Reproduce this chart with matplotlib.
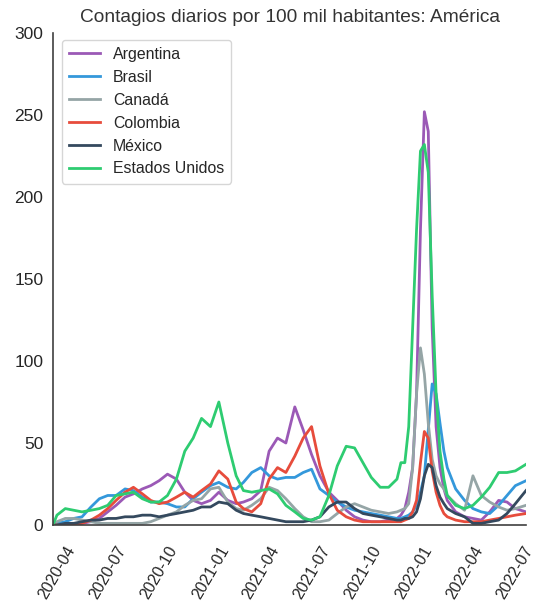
import matplotlib
matplotlib.use("Agg")
import matplotlib.pyplot as plt
import matplotlib.dates as mdates
import numpy as np
import pandas as pd

plt.rcParams['font.family'] = ['Liberation Sans', 'DejaVu Sans']

dates = pd.to_datetime([
    "2020-03-25", "2020-04-01", "2020-04-16", "2020-05-01", "2020-05-16", "2020-06-01",
    "2020-06-16", "2020-07-01", "2020-07-16", "2020-08-01", "2020-08-16", "2020-09-01",
    "2020-09-16", "2020-10-01", "2020-10-16", "2020-11-01", "2020-11-16", "2020-12-01",
    "2020-12-16", "2021-01-01", "2021-01-16", "2021-02-01", "2021-02-16", "2021-03-01",
    "2021-03-16", "2021-04-01", "2021-04-16", "2021-05-01", "2021-05-16", "2021-06-01",
    "2021-06-16", "2021-07-01", "2021-07-16", "2021-08-01", "2021-08-16", "2021-09-01",
    "2021-09-16", "2021-10-01", "2021-10-16", "2021-11-01", "2021-11-16", "2021-12-01",
    "2021-12-08", "2021-12-15", "2021-12-22", "2021-12-29", "2022-01-05", "2022-01-12",
    "2022-01-19", "2022-01-26", "2022-02-02", "2022-02-09", "2022-02-16", "2022-02-23",
    "2022-03-01", "2022-03-16", "2022-04-01", "2022-04-16", "2022-05-01", "2022-05-16",
    "2022-06-01", "2022-06-16", "2022-07-01", "2022-07-20",
])

argentina = [0, 0, 0, 0, 1, 2, 4, 8, 12, 17, 19, 22, 24, 27, 31, 28, 20, 15, 13, 15,
             20, 15, 13, 14, 16, 21, 45, 53, 50, 72, 58, 43, 30, 20, 15, 9, 5, 3, 2, 2,
             3, 4, 6, 10, 20, 35, 80, 180, 252, 240, 120, 60, 35, 22, 15, 8, 5, 4, 3, 8,
             15, 14, 10, 8]
brasil = [0, 1, 2, 4, 5, 11, 16, 18, 18, 22, 21, 17, 14, 14, 13, 11, 11, 16, 20, 24,
          26, 23, 22, 26, 32, 35, 30, 28, 29, 29, 32, 34, 22, 18, 14, 11, 9, 8, 7, 6,
          5, 4, 4, 5, 6, 8, 12, 20, 30, 58, 86, 80, 62, 45, 35, 22, 15, 10, 8, 7,
          12, 18, 24, 27]
canada = [0, 2, 4, 4, 3, 2, 1, 1, 1, 1, 1, 1, 2, 4, 6, 8, 12, 15, 16, 22,
          23, 14, 10, 9, 12, 16, 23, 21, 16, 10, 5, 2, 2, 3, 7, 11, 13, 11, 9, 8,
          7, 8, 9, 10, 13, 35, 80, 108, 92, 62, 40, 30, 25, 22, 18, 13, 9, 30, 18, 14,
          11, 9, 10, 12]
colombia = [0, 0, 0, 0, 1, 3, 6, 10, 15, 20, 23, 19, 15, 13, 14, 17, 20, 17, 21, 25,
            33, 28, 14, 10, 8, 13, 28, 35, 32, 42, 53, 60, 36, 19, 9, 5, 3, 2, 2, 2,
            2, 2, 2, 3, 4, 8, 15, 38, 57, 53, 33, 20, 12, 7, 5, 3, 2, 2, 2, 3,
            4, 5, 6, 7]
mexico = [0, 0, 1, 1, 2, 3, 3, 4, 4, 5, 5, 6, 6, 5, 6, 7, 8, 9, 11, 11,
          14, 13, 9, 7, 6, 5, 4, 3, 2, 2, 2, 3, 5, 11, 14, 14, 10, 7, 6, 5,
          4, 3, 3, 4, 4, 5, 8, 16, 30, 37, 35, 24, 17, 13, 10, 7, 5, 1, 1, 2,
          3, 7, 13, 21]
estados_unidos = [0, 6, 10, 9, 8, 9, 10, 12, 18, 19, 20, 16, 14, 14, 18, 28, 45, 53, 65, 60,
                  75, 50, 30, 21, 20, 21, 22, 19, 12, 8, 4, 3, 5, 18, 36, 48, 47, 38, 29, 23,
                  23, 28, 38, 38, 60, 120, 180, 228, 232, 215, 140, 80, 45, 28, 18, 12, 10, 12, 17, 23,
                  32, 32, 33, 37]

countries = ["Argentina", "Brasil", "Canadá", "Colombia", "México", "Estados Unidos"]
series = [argentina, brasil, canada, colombia, mexico, estados_unidos]
colors = ["#9b59b6", "#3498db", "#95a5a6", "#e74c3c", "#34495e", "#2ecc71"]

fig = plt.figure(figsize=(5.37, 6.11), dpi=100)
ax = fig.add_axes([53/537, 1-525/611, (526-53)/537, (525-33)/611])

for name, vals, c in zip(countries, series, colors):
    ax.plot(dates, vals, color=c, lw=2, label=name)

ax.set_xlim(dates[0], dates[-1])
ax.set_ylim(0, 300)
ax.set_yticks(np.arange(0, 301, 50))
ax.xaxis.set_major_locator(mdates.MonthLocator(bymonth=[1, 4, 7, 10]))
ax.xaxis.set_major_formatter(mdates.DateFormatter("%Y-%m"))
for lab in ax.get_xticklabels():
    lab.set_rotation(60)
    lab.set_ha("center")
ax.tick_params(axis="x", length=0, labelsize=11.5, colors="#262626", pad=13)
ax.tick_params(axis="y", length=0, labelsize=12.5, colors="#262626", pad=7)

for s in ["top", "right"]:
    ax.spines[s].set_visible(False)
for s in ["left", "bottom"]:
    ax.spines[s].set_color("#404040")
    ax.spines[s].set_linewidth(1.2)

ax.set_title("Contagios diarios por 100 mil habitantes: América", fontsize=13.8,
             color="#333333", pad=8)
leg = ax.legend(loc="upper left", fontsize=11.4, frameon=True, handlelength=2.0,
                borderpad=0.45, labelspacing=0.5, handletextpad=0.8,
                borderaxespad=0.3, bbox_to_anchor=(0.008, 0.996))
leg.get_frame().set_edgecolor("#cccccc")
for t in leg.get_texts():
    t.set_color("#262626")

fig.savefig("out.png", dpi=100)
